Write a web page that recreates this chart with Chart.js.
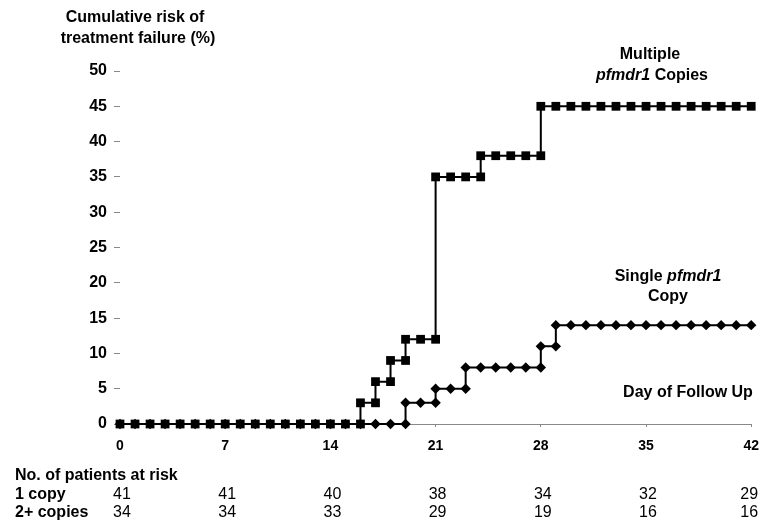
<!DOCTYPE html>
<html>
<head>
<meta charset="utf-8">
<script src="https://cdn.jsdelivr.net/npm/chart.js@4.4.0/dist/chart.umd.min.js"></script>
<style>
  body { margin: 0; background: #fff; }
  canvas { display: block; }
</style>
</head>
<body>
<canvas id="chart" width="770" height="529"></canvas>
<script>
// days of follow up
const days = [0, 1, 2, 3, 4, 5, 6, 7, 8, 9, 10, 11, 12, 13, 14, 15, 16, 17, 18, 19, 20,
  21, 22, 23, 24, 25, 26, 27, 28, 29, 30, 31, 32, 33, 34, 35, 36, 37, 38, 39, 40, 41, 42];
// cumulative risk (%) at end of each day
const multipleRisk = [0, 0, 0, 0, 0, 0, 0, 0, 0, 0, 0, 0, 0, 0, 0, 0, 3, 6, 9, 12, 12,
  35, 35, 35, 38, 38, 38, 38, 45, 45, 45, 45, 45, 45, 45, 45, 45, 45, 45, 45, 45, 45, 45];
const singleRisk = [0, 0, 0, 0, 0, 0, 0, 0, 0, 0, 0, 0, 0, 0, 0, 0, 0, 0, 0, 3, 3,
  5, 5, 8, 8, 8, 8, 8, 11, 14, 14, 14, 14, 14, 14, 14, 14, 14, 14, 14, 14, 14, 14];
// x tick labels and patients at risk table
const tickDays = [0, 7, 14, 21, 28, 35, 42];
const oneCopy = [41, 41, 40, 38, 34, 32, 29];
const twoCopies = [34, 34, 33, 29, 19, 16, 16];

const FONT = '"Liberation Sans", Arial, sans-serif';

// step line: at a change, mark old and new level on the same day
function stepPoints(risk) {
  const pts = [];
  days.forEach((d, i) => {
    if (i > 0 && risk[i] !== risk[i - 1]) pts.push({x: d, y: risk[i - 1]});
    pts.push({x: d, y: risk[i]});
  });
  return pts;
}

const textPlugin = {
  id: 'texts',
  afterDraw(chart) {
    const ctx = chart.ctx;
    const xs = chart.scales.x;
    ctx.save();
    ctx.fillStyle = '#000';
    ctx.textBaseline = 'middle';

    function txt(s, x, y, align, font) {
      ctx.font = font || ('bold 16px ' + FONT);
      ctx.textAlign = align || 'center';
      ctx.fillText(s, x, y);
    }
    // mixed italic + normal line, centred
    function mixed(parts, cx, y) {
      let w = 0;
      parts.forEach(p => { ctx.font = p[1]; w += ctx.measureText(p[0]).width; });
      let x = cx - w / 2;
      ctx.textAlign = 'left';
      parts.forEach(p => { ctx.font = p[1]; ctx.fillText(p[0], x, y); x += ctx.measureText(p[0]).width; });
    }

    const b = 'bold 16px ' + FONT;
    const bi = 'italic bold 16px ' + FONT;

    txt('Cumulative risk of', 135, 18);
    txt('treatment failure (%)', 138, 39);

    txt('Multiple', 650, 55);
    mixed([['pfmdr1', bi], [' Copies', b]], 652, 76);

    mixed([['Single ', b], ['pfmdr1', bi]], 668, 277);
    txt('Copy', 668, 297);

    txt('Day of Follow Up', 688, 393);

    txt('No. of patients at risk', 15, 476, 'left');
    txt('1 copy', 15, 495, 'left');
    txt('2+ copies', 15, 513, 'left');
    tickDays.forEach((d, i) => {
      const px = xs.getPixelForValue(d) + (i === tickDays.length - 1 ? -2 : 2);
      txt(String(oneCopy[i]), px, 495, 'center', '16px ' + FONT);
      txt(String(twoCopies[i]), px, 513, 'center', '16px ' + FONT);
    });
    ctx.restore();
  }
};

new Chart(document.getElementById('chart'), {
  type: 'line',
  data: {
    datasets: [{
      label: 'Multiple pfmdr1 Copies',
      data: stepPoints(multipleRisk),
      borderColor: '#000',
      backgroundColor: '#000',
      borderWidth: 2,
      pointStyle: 'rect',
      pointRadius: 6.2,
      pointBorderWidth: 0,
      tension: 0,
      clip: false
    }, {
      label: 'Single pfmdr1 Copy',
      data: stepPoints(singleRisk),
      borderColor: '#000',
      backgroundColor: '#000',
      borderWidth: 2,
      pointStyle: 'rectRot',
      pointRadius: 5.2,
      pointBorderWidth: 0,
      tension: 0,
      clip: false
    }]
  },
  options: {
    responsive: false,
    animation: false,
    layout: {padding: {top: 71, right: 17, left: 0, bottom: 0}},
    plugins: {legend: {display: false}, tooltip: {enabled: false}},
    scales: {
      x: {
        type: 'linear',
        min: 0,
        max: 42,
        afterFit(s) { s.height = 105; },
        afterBuildTicks(s) { s.ticks = tickDays.map(v => ({value: v})); },
        border: {color: '#888', width: 1},
        grid: {drawOnChartArea: false, tickLength: 3, color: '#888'},
        ticks: {color: '#000', font: {family: FONT, size: 14, weight: 'bold'}, padding: 11, maxRotation: 0}
      },
      y: {
        min: 0,
        max: 50,
        afterFit(s) { s.width = 120; },
        border: {display: false},
        grid: {drawOnChartArea: false, tickLength: 6, color: '#888'},
        ticks: {stepSize: 5, color: '#000', font: {family: FONT, size: 16, weight: 'bold'}, padding: 7}
      }
    }
  },
  plugins: [textPlugin]
});
</script>
</body>
</html>
